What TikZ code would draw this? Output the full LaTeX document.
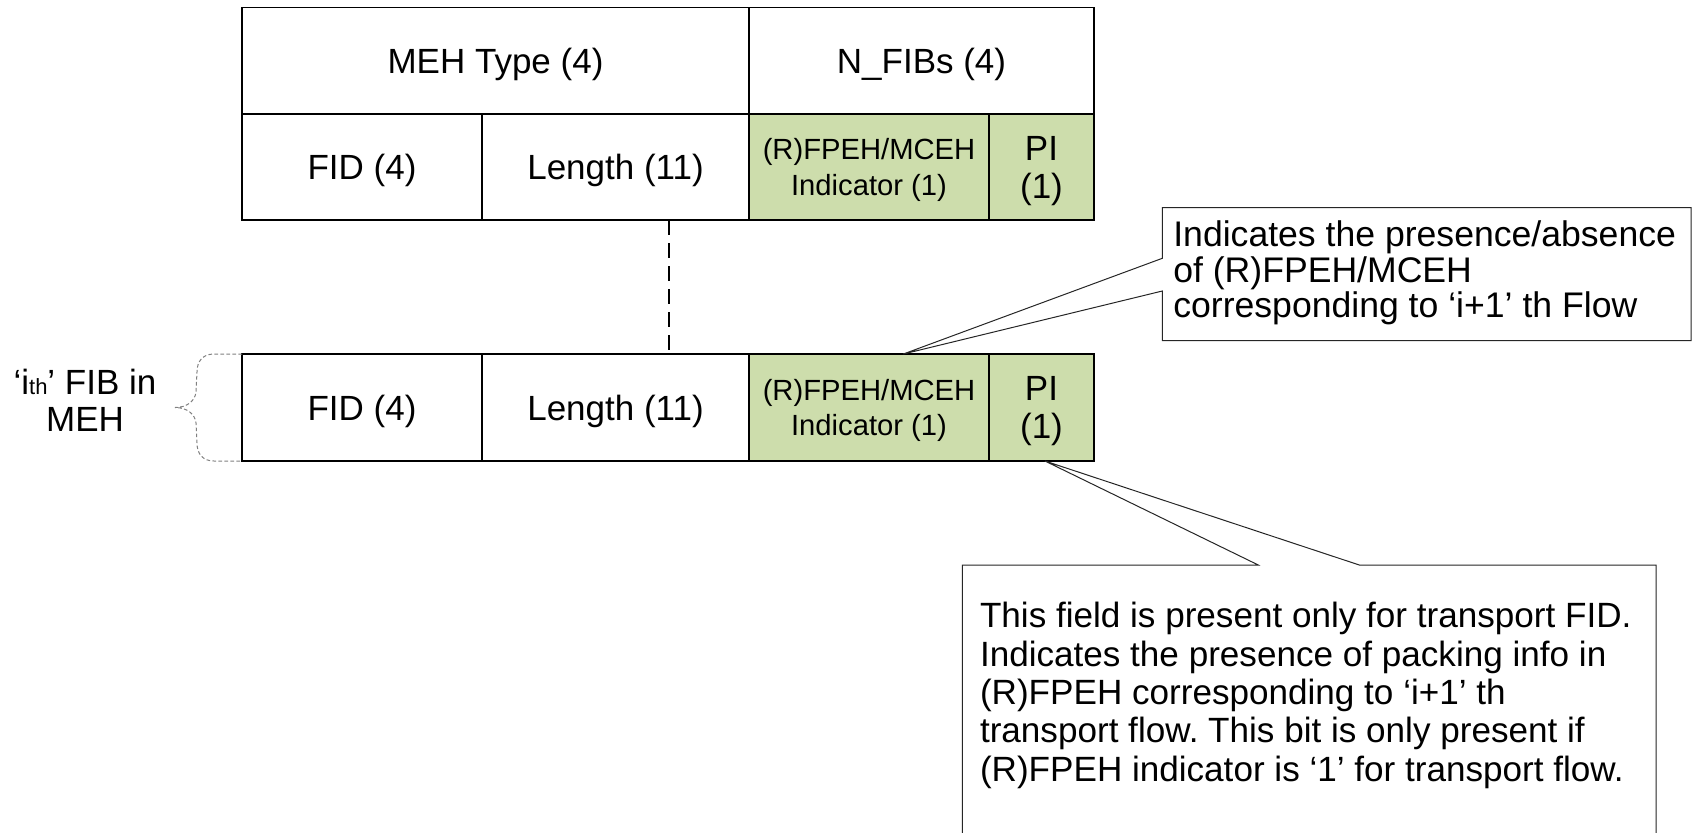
\documentclass[tikz,border=0pt]{standalone}
\usepackage{fontspec}
\setmainfont{Liberation Sans}
\frenchspacing
\usetikzlibrary{calc}
\definecolor{fieldgreen}{RGB}{205,221,172}
\definecolor{bracegray}{RGB}{128,128,128}
\tikzset{
  cell/.style={draw=black, line width=0.75pt, inner sep=0pt, outer sep=0pt,
    anchor=north west, align=center, text depth=0pt, font=\fontsize{17.5}{19}\selectfont},
  flag/.style={cell, fill=fieldgreen},
  smalltext/.style={font=\fontsize{14.6}{17.8}\selectfont},
  note/.style={anchor=north west, inner sep=0pt, outer sep=0pt, align=left},
  callout/.style={draw=black!85, line width=0.5pt, fill=white, line join=miter},
  gap/.style={draw=black, line width=0.6pt, dash pattern=on 7.5pt off 4pt},
  bracket/.style={draw=bracegray, line width=0.5pt, dash pattern=on 1.8pt off 1.2pt},
}
\begin{document}
\begin{tikzpicture}[x=0.5pt, y=-0.5pt]
\useasboundingbox (0,0) rectangle (1696,832);
\clip (0,0) rectangle (1696,832);

% header row
\node[cell, minimum width=253.5pt, minimum height=53.25pt] (meh) at (242,7.5) {MEH Type (4)};
\node[cell, minimum width=172.5pt, minimum height=53.25pt] (nfib) at (749,7.5) {N\_FIBs (4)};

% first FIB
\node[cell, minimum width=120pt, minimum height=53pt] (fid1) at (242,114) {FID (4)};
\node[cell, minimum width=133.5pt, minimum height=53pt] (len1) at (482,114) {Length (11)};
\node[flag, smalltext, minimum width=120pt, minimum height=53pt] (ind1) at (749,114) {(R)FPEH/MCEH\\Indicator (1)};
\node[flag, minimum width=52.5pt, minimum height=53pt] (pi1) at (989,114) {PI\\(1)};

% i-th FIB
\node[cell, minimum width=120pt, minimum height=53.5pt] (fid2) at (242,354) {FID (4)};
\node[cell, minimum width=133.5pt, minimum height=53.5pt] (len2) at (482,354) {Length (11)};
\node[flag, smalltext, minimum width=120pt, minimum height=53.5pt] (ind2) at (749,354) {(R)FPEH/MCEH\\Indicator (1)};
\node[flag, minimum width=52.5pt, minimum height=53.5pt] (pi2) at (989,354) {PI\\(1)};

% repeated FIBs in between
\draw[gap] ($(len1.south west)!0.7!(len1.south east)$) -- ($(len2.north west)!0.7!(len2.north east)$);

% brace and its label
\draw[bracket] (fid2.north west) -- (214,354)
  .. controls (203,354) and (197,361) .. (197,372)
  -- (196,392) .. controls (195,401) and (187,407.5) .. (175,407.5)
  coordinate (bracetip)
  .. controls (187,407.5) and (195,414) .. (196,423)
  -- (197,443) .. controls (197,454) and (203,461) .. (214,461)
  -- (fid2.south west);
\node[note, anchor=north, align=center, font=\fontsize{17.5}{18.5}\selectfont] (fiblabel) at (85,369.5)
  {‘i{\fontsize{11}{11}\selectfont th}’ FIB in\\MEH};

% callout on the indicator bit
\coordinate (tipA) at ($(ind2.north west)!0.643!(ind2.north east)$);
\draw[callout] (1162.3,207.7) -- (1691,207.7) -- (1691,340.7) -- (1162.3,340.7)
  -- (1162.3,291) -- (tipA) -- (1162.3,258.3) -- cycle;
\node[note, font=\fontsize{17.8}{17.85}\selectfont] (noteA) at (1173.3,220.5)
  {Indicates the presence/absence\\of (R)FPEH/MCEH\\corresponding to ‘i+1’ th Flow};

% callout on the PI bit
\coordinate (tipB) at ($(pi2.south west)!0.533!(pi2.south east)$);
\draw[callout] (962.3,840) -- (962.3,565) -- (1258.3,565) -- (tipB)
  -- (1359.3,565) -- (1656,565) -- (1656,840);
\node[note, font=\fontsize{17.55}{19.15}\selectfont] (noteB) at (980,602.5)
  {This field is present only for transport FID.\\Indicates the presence of packing info in\\(R)FPEH corresponding to ‘i+1’ th\\transport flow. This bit is only present if\\(R)FPEH indicator is ‘1’ for transport flow.};
\end{tikzpicture}
\end{document}
